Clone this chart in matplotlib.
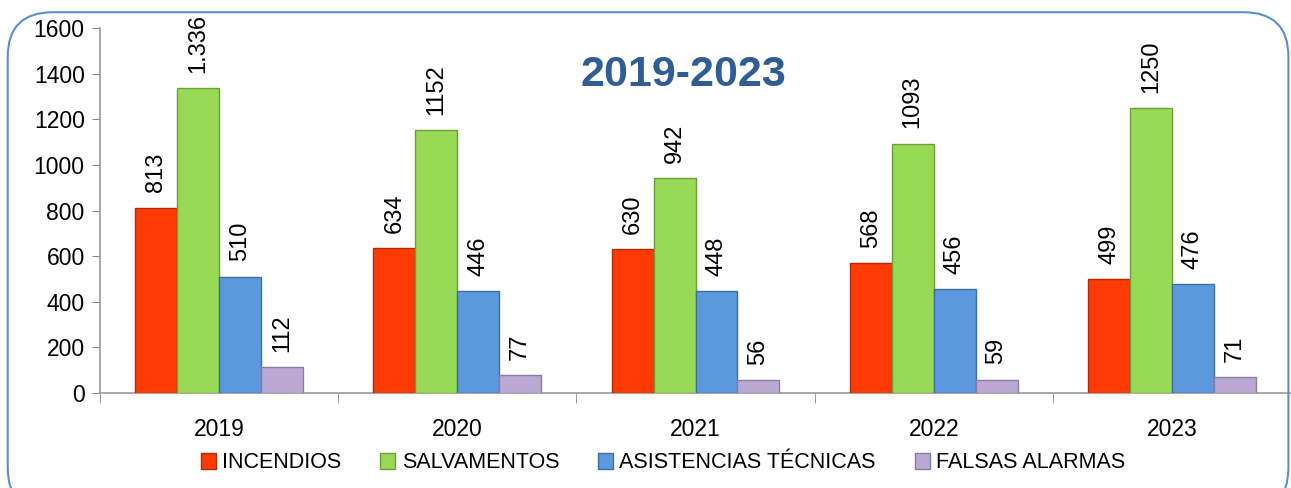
import matplotlib
matplotlib.use('Agg')
import matplotlib.pyplot as plt
import numpy as np
from matplotlib.patches import FancyBboxPatch

years = ['2019', '2020', '2021', '2022', '2023']
series_names = ['INCENDIOS', 'SALVAMENTOS', 'ASISTENCIAS TÉCNICAS', 'FALSAS ALARMAS']
incendios = [813, 634, 630, 568, 499]
salvamentos = [1336, 1152, 942, 1093, 1250]
asistencias = [510, 446, 448, 456, 476]
falsas = [112, 77, 56, 59, 71]
salvamentos_labels = ['1.336', '1152', '942', '1093', '1250']

colors = ['#FF3A05', '#98D955', '#5B98DC', '#BBA8D3']
edges = ['#B32A08', '#6E9E3A', '#3E6EA6', '#8C7BA4']

plt.rcParams['font.family'] = ['Liberation Sans', 'DejaVu Sans']

fig = plt.figure(figsize=(12.91, 4.88), dpi=100)

# rounded frame around the chart
frame = FancyBboxPatch((0.006, -0.05), 0.992, 1.025, transform=fig.transFigure,
                       boxstyle='round,pad=0,rounding_size=0.035', facecolor='none',
                       edgecolor='#5B8FD0', linewidth=1.5, mutation_aspect=2.6)
fig.patches.append(frame)

ax = fig.add_axes([100 / 1291, 95 / 488, 1191 / 1291, 365 / 488])

x = np.arange(len(years))
w = 0.176
data = [incendios, salvamentos, asistencias, falsas]
for i, vals in enumerate(data):
    pos = x + (i - 1.5) * w
    ax.bar(pos, vals, width=w, color=colors[i], edgecolor=edges[i], linewidth=1,
           label=series_names[i], zorder=3)
    labels = salvamentos_labels if i == 1 else [str(v) for v in vals]
    for p, v, lab in zip(pos, vals, labels):
        ax.annotate(lab, (p, v), xytext=(0, 11), textcoords='offset points',
                    rotation=90, ha='center', va='bottom', fontsize=17)

ax.set_xlim(-0.5, len(years) - 0.5)
ax.set_ylim(0, 1600)
ax.set_yticks(range(0, 1601, 200))
ax.tick_params(axis='y', labelsize=16.5, length=6, color='#888888', pad=5)
ax.set_xticks(x)
ax.set_xticklabels(years, fontsize=16.5)
ax.set_xticks(np.arange(-0.5, len(years)), minor=True)
ax.tick_params(axis='x', which='major', length=0, pad=18)
ax.tick_params(axis='x', which='minor', length=7, color='#888888')
for s in ['top', 'right']:
    ax.spines[s].set_visible(False)
for s in ['left', 'bottom']:
    ax.spines[s].set_color('#999999')
    ax.spines[s].set_linewidth(1.2)

ax.text(0.49, 0.87, '2019-2023', transform=ax.transAxes, ha='center', va='center',
        fontsize=31, fontweight='bold', color='#2F5D95')

ax.legend(loc='center', bbox_to_anchor=(663 / 1291, 25 / 488),
          bbox_transform=fig.transFigure, ncol=4, frameon=False, fontsize=15.5,
          handlelength=0.7, handleheight=0.7, handletextpad=0.3, columnspacing=1.8)

fig.savefig('out.png', dpi=100)
